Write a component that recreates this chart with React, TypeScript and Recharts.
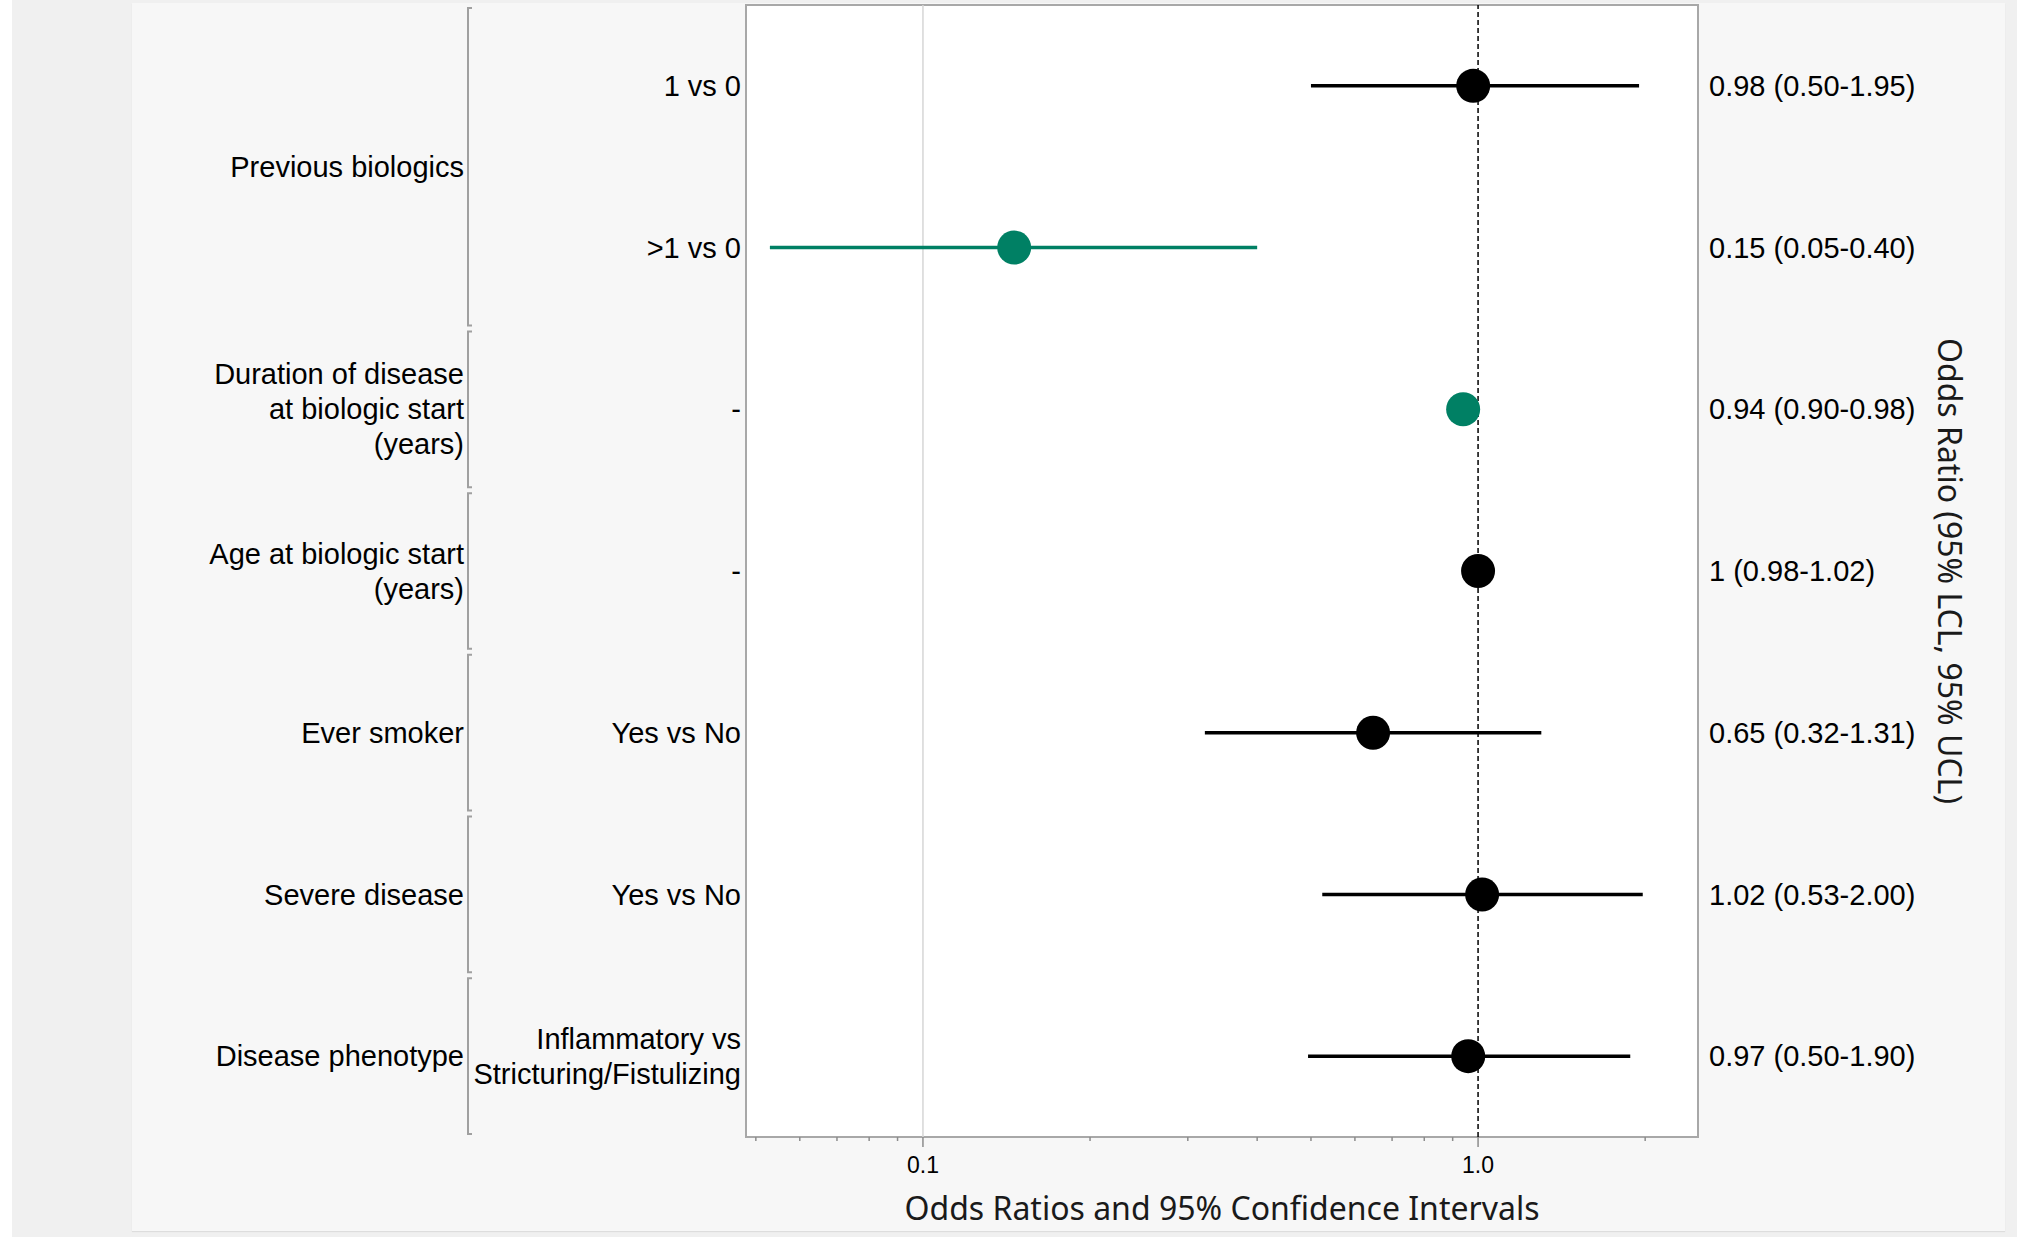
import {
  CartesianGrid,
  ErrorBar,
  ReferenceArea,
  ReferenceLine,
  Scatter,
  ScatterChart,
  XAxis,
  YAxis,
} from 'recharts'

// groups on the left, each spanning one or more rows
const groupLabels = [
  'Previous biologics',
  'Duration of disease\nat biologic start\n(years)',
  'Age at biologic start\n(years)',
  'Ever smoker',
  'Severe disease',
  'Disease phenotype',
]
const groupSizes = [2, 1, 1, 1, 1, 1]

// one entry per row
const contrastLabels = [
  '1 vs 0',
  '>1 vs 0',
  '-',
  '-',
  'Yes vs No',
  'Yes vs No',
  'Inflammatory vs\nStricturing/Fistulizing',
]
const oddsRatios = [0.98, 0.146, 0.94, 1.0, 0.647, 1.017, 0.96]
const lowerCL = [0.5, 0.053, 0.9, 0.98, 0.322, 0.524, 0.494]
const upperCL = [1.95, 0.4, 0.98, 1.02, 1.3, 1.98, 1.88]
const estimateLabels = [
  '0.98 (0.50-1.95)',
  '0.15 (0.05-0.40)',
  '0.94 (0.90-0.98)',
  '1 (0.98-1.02)',
  '0.65 (0.32-1.31)',
  '1.02 (0.53-2.00)',
  '0.97 (0.50-1.90)',
]
const significant = [false, true, true, false, false, false, false]

const majorTicks = [0.1, 1]
const minorTicks = [0.05, 0.06, 0.07, 0.08, 0.09, 0.2, 0.3, 0.4, 0.5, 0.6, 0.7, 0.8, 0.9, 2]

const GREEN = '#008064'
const WIDTH = 2017
const HEIGHT = 1237
const PLOT_LEFT = 746
const PLOT_RIGHT = 1698
const PLOT_TOP = 5
const X_AXIS_H = 100
const PLOT_BOTTOM = HEIGHT - X_AXIS_H
const ROW_H = (PLOT_BOTTOM - PLOT_TOP) / contrastLabels.length
const X_DOMAIN: [number, number] = [0.048, 2.49]
const LABEL_FONT = '"Liberation Sans", Arial, sans-serif'
const TITLE_FONT = '"Noto Sans", "Open Sans", sans-serif'
const FS = 29
const LH = 35

const rows = oddsRatios.map((or, i) => ({
  row: i + 0.5,
  or,
  err: [or - lowerCL[i], upperCL[i] - or],
  sig: significant[i],
}))
const rowTicks = rows.map((r) => r.row)
const groupStarts = groupSizes.map((_, g) => groupSizes.slice(0, g).reduce((a, b) => a + b, 0))

function multiline(text: string, x: number, y: number, anchor: 'start' | 'end' | 'middle') {
  const lines = text.split('\n')
  return (
    <text x={x} y={y} textAnchor={anchor} fontSize={FS} fontFamily={LABEL_FONT} fill="#000">
      {lines.map((line, k) => (
        <tspan key={k} x={x} dy={k === 0 ? -((lines.length - 1) / 2) * LH + FS * 0.35 : LH}>
          {line}
        </tspan>
      ))}
    </text>
  )
}

function LeftTick(props: any) {
  const { y, payload } = props
  const i = Math.round(payload.value - 0.5)
  const g = groupStarts.indexOf(i)
  let group = null
  if (g >= 0) {
    const top = y - ROW_H / 2 + 3
    const bottom = y - ROW_H / 2 + groupSizes[g] * ROW_H - 3
    const mid = (top + bottom) / 2
    group = (
      <g>
        {multiline(groupLabels[g], PLOT_LEFT - 282, mid, 'end')}
        <path
          d={`M${PLOT_LEFT - 274},${top} H${PLOT_LEFT - 278} V${bottom} H${PLOT_LEFT - 274}`}
          fill="none"
          stroke="#a0a0a0"
          strokeWidth={2}
        />
      </g>
    )
  }
  return (
    <g>
      {group}
      {multiline(contrastLabels[i], PLOT_LEFT - 5, y, 'end')}
    </g>
  )
}

function RightTick(props: any) {
  const { x, y, payload } = props
  const i = Math.round(payload.value - 0.5)
  return multiline(estimateLabels[i], x, y, 'start')
}

function XTick(props: any) {
  const { x, y, payload } = props
  const major = majorTicks.includes(payload.value)
  return (
    <g>
      <line x1={x} x2={x} y1={y} y2={y + (major ? 10 : 4)} stroke="#8c8c8c" strokeWidth={1.5} />
      {major ? (
        <text x={x} y={y + 36} textAnchor="middle" fontSize={23} fontFamily={LABEL_FONT} fill="#000">
          {payload.value.toFixed(1)}
        </text>
      ) : null}
    </g>
  )
}

function BottomTitle(props: any) {
  const { x, width } = props.viewBox
  return (
    <text
      x={x + width / 2}
      y={PLOT_BOTTOM + 83}
      textAnchor="middle"
      fontSize={32}
      fontFamily={TITLE_FONT}
      fill="#1a1a1a"
    >
      Odds Ratios and 95% Confidence Intervals
    </text>
  )
}

function RightTitle(props: any) {
  const { x } = props.viewBox
  const cx = x + 251
  const cy = (PLOT_TOP + PLOT_BOTTOM) / 2
  return (
    <text
      x={cx}
      y={cy}
      dy="0.35em"
      transform={`rotate(90, ${cx}, ${cy})`}
      textAnchor="middle"
      fontSize={32}
      fontFamily={TITLE_FONT}
      fill="#1a1a1a"
    >
      Odds Ratio (95% LCL, 95% UCL)
    </text>
  )
}

const dot = (color: string) => (p: any) => <circle cx={p.cx} cy={p.cy} r={17} fill={color} />

export default function App() {
  return (
    <div
      style={{
        position: 'absolute',
        left: 0,
        top: 0,
        width: WIDTH,
        height: HEIGHT,
        background: '#f0f0f0',
        overflow: 'hidden',
      }}
    >
      <div style={{ position: 'absolute', left: 0, top: 0, width: 12, height: HEIGHT, background: '#fff' }} />
      <div
        style={{
          position: 'absolute',
          left: 132,
          top: 3,
          width: 2005 - 132,
          height: 1231 - 3,
          background: '#f7f7f7',
          boxShadow: '0 1px 1px rgba(0,0,0,0.08)',
        }}
      />
      <div style={{ position: 'absolute', left: 0, top: 0 }}>
        <ScatterChart width={WIDTH} height={HEIGHT} margin={{ top: PLOT_TOP, right: 0, bottom: 0, left: 0 }}>
          <CartesianGrid yAxisId="left" horizontal={false} vertical={false} fill="#ffffff" />
          <XAxis
            type="number"
            dataKey="or"
            scale="log"
            domain={X_DOMAIN}
            allowDataOverflow
            ticks={[...minorTicks, ...majorTicks].sort((a, b) => a - b)}
            interval={0}
            tick={<XTick />}
            tickLine={false}
            axisLine={false}
            tickSize={0}
            tickMargin={0}
            height={X_AXIS_H}
            label={<BottomTitle />}
          />
          <YAxis
            yAxisId="left"
            type="number"
            dataKey="row"
            domain={[0, 7]}
            allowDataOverflow
            reversed
            ticks={rowTicks}
            interval={0}
            width={PLOT_LEFT}
            tick={<LeftTick />}
            tickLine={false}
            axisLine={false}
            tickSize={0}
            tickMargin={0}
          />
          <YAxis
            yAxisId="right"
            orientation="right"
            type="number"
            dataKey="row"
            domain={[0, 7]}
            allowDataOverflow
            reversed
            ticks={rowTicks}
            interval={0}
            width={WIDTH - PLOT_RIGHT}
            tick={<RightTick />}
            tickLine={false}
            axisLine={false}
            tickSize={0}
            tickMargin={11}
            label={<RightTitle />}
          />
          <ReferenceLine yAxisId="left" x={0.1} stroke="#d6d6d6" strokeWidth={1.5} />
          <ReferenceLine yAxisId="left" x={1} stroke="#000" strokeWidth={1.5} strokeDasharray="5 3" />
          <ReferenceArea
            yAxisId="left"
            x1={X_DOMAIN[0]}
            x2={X_DOMAIN[1]}
            y1={0}
            y2={7}
            fill="none"
            stroke="#a8a8a8"
            strokeWidth={2}
          />
          <Scatter
            yAxisId="left"
            data={rows.filter((r) => !r.sig)}
            shape={dot('#000')}
            isAnimationActive={false}
          >
            <ErrorBar dataKey="err" direction="x" width={0} stroke="#000" strokeWidth={3.5} />
          </Scatter>
          <Scatter
            yAxisId="right"
            data={rows.filter((r) => r.sig)}
            shape={dot(GREEN)}
            isAnimationActive={false}
          >
            <ErrorBar dataKey="err" direction="x" width={0} stroke={GREEN} strokeWidth={3.5} />
          </Scatter>
        </ScatterChart>
      </div>
    </div>
  )
}
